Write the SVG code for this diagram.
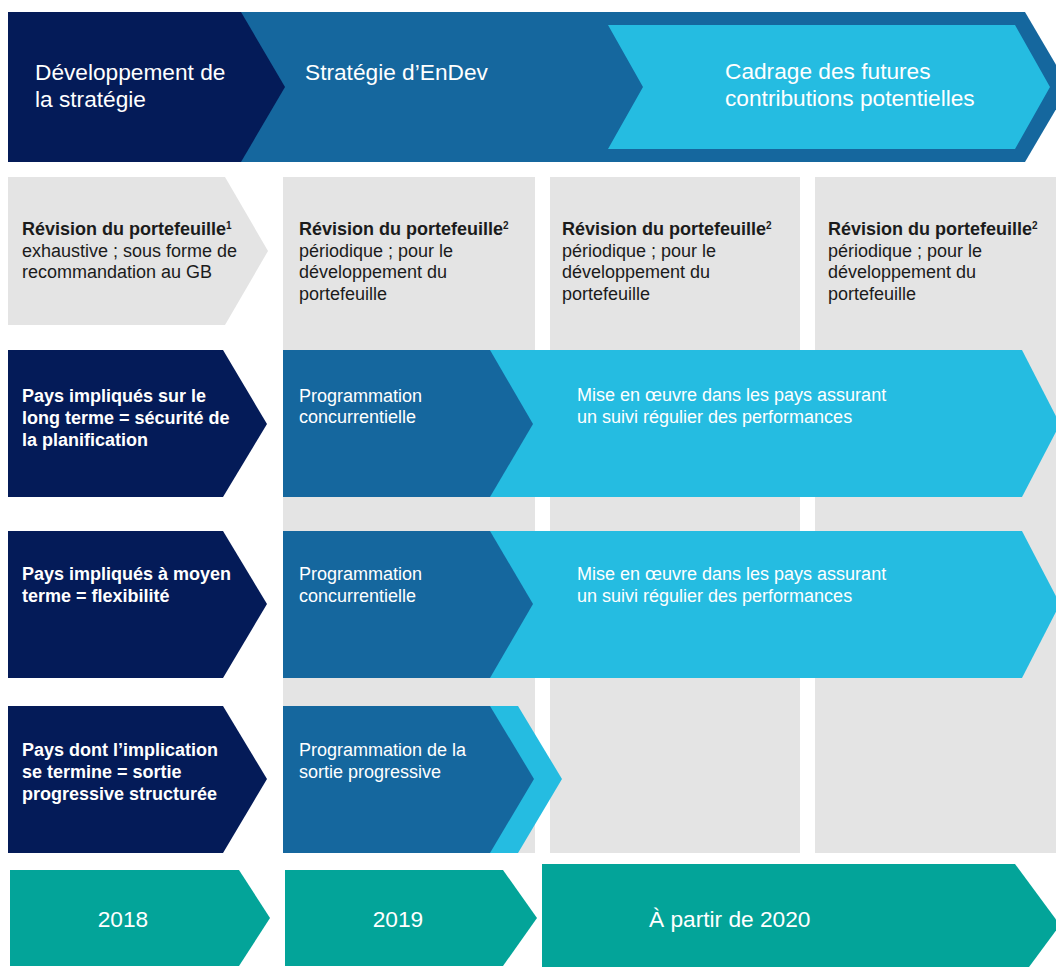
<svg xmlns="http://www.w3.org/2000/svg" width="1056" height="967" viewBox="0 0 1056 967">
<style>
text{font-family:"Liberation Sans",Arial,sans-serif;}
.navy{fill:#041b58;}
.mid{fill:#15679e;}
.cyan{fill:#25bce1;}
.gray{fill:#e4e4e4;}
.teal{fill:#03a499;}
.wt{fill:#ffffff;font-size:18px;}
.wb{fill:#ffffff;font-size:18px;font-weight:bold;}
.big{fill:#ffffff;font-size:22.7px;}
.dk{fill:#1b1b1b;font-size:18px;}
.dkb{fill:#1b1b1b;font-size:18px;font-weight:bold;}
.sup{font-size:10px;}
</style>
<rect width="1056" height="967" fill="#ffffff"/>

<g id="banner">
  <polygon class="mid" points="241,12 1025,12 1069,87 1025,162 241,162"/>
  <polygon class="cyan" points="608,25 1015,25 1050,87 1015,149 608,149 643,87"/>
  <polygon class="navy" points="8,12 241,12 285,87 241,162 8,162"/>
  <text class="big" x="35" y="80">Développement de</text>
  <text class="big" x="35" y="107">la stratégie</text>
  <text class="big" x="305" y="80">Stratégie d’EnDev</text>
  <text class="big" x="725" y="79">Cadrage des futures</text>
  <text class="big" x="725" y="106">contributions potentielles</text>
</g>

<g id="columns">
  <rect class="gray" x="283" y="177" width="252" height="676"/>
  <rect class="gray" x="550" y="177" width="250" height="676"/>
  <rect class="gray" x="815" y="177" width="241" height="676"/>
</g>

<g id="review-2018">
  <polygon class="gray" points="8,177 225,177 268,251 225,325 8,325"/>
  <text class="dkb" x="22" y="235">Révision du portefeuille<tspan class="sup" dy="-6">1</tspan></text>
  <text class="dk" x="22" y="257">exhaustive ; sous forme de</text>
  <text class="dk" x="22" y="278">recommandation au GB</text>
</g>

<g id="review-2019">
  <text class="dkb" x="299" y="235">Révision du portefeuille<tspan class="sup" dy="-6">2</tspan></text>
  <text class="dk" x="299" y="257">périodique ; pour le</text>
  <text class="dk" x="299" y="278">développement du</text>
  <text class="dk" x="299" y="300">portefeuille</text>
</g>

<g id="review-2020a">
  <text class="dkb" x="562" y="235">Révision du portefeuille<tspan class="sup" dy="-6">2</tspan></text>
  <text class="dk" x="562" y="257">périodique ; pour le</text>
  <text class="dk" x="562" y="278">développement du</text>
  <text class="dk" x="562" y="300">portefeuille</text>
</g>

<g id="review-2020b">
  <text class="dkb" x="828" y="235">Révision du portefeuille<tspan class="sup" dy="-6">2</tspan></text>
  <text class="dk" x="828" y="257">périodique ; pour le</text>
  <text class="dk" x="828" y="278">développement du</text>
  <text class="dk" x="828" y="300">portefeuille</text>
</g>

<g id="row-long">
  <polygon class="navy" points="8,350 223,350 267,424 223,497 8,497"/>
  <text class="wb" x="22" y="402">Pays impliqués sur le</text>
  <text class="wb" x="22" y="424">long terme = sécurité de</text>
  <text class="wb" x="22" y="446">la planification</text>
</g>
<g id="row-long-impl">
  <polygon class="cyan" points="480,350 1022,350 1060,424 1022,497 480,497"/>
  <text class="wt" x="577" y="401">Mise en œuvre dans les pays assurant</text>
  <text class="wt" x="577" y="423">un suivi régulier des performances</text>
</g>
<g id="row-long-prog">
  <polygon class="mid" points="283,350 490,350 533,424 490,497 283,497"/>
  <text class="wt" x="299" y="402">Programmation</text>
  <text class="wt" x="299" y="423">concurrentielle</text>
</g>

<g id="row-medium">
  <polygon class="navy" points="8,531 223,531 267,604 223,678 8,678"/>
  <text class="wb" x="22" y="580">Pays impliqués à moyen</text>
  <text class="wb" x="22" y="602">terme = flexibilité</text>
</g>
<g id="row-medium-impl">
  <polygon class="cyan" points="480,531 1022,531 1060,604 1022,678 480,678"/>
  <text class="wt" x="577" y="580">Mise en œuvre dans les pays assurant</text>
  <text class="wt" x="577" y="602">un suivi régulier des performances</text>
</g>
<g id="row-medium-prog">
  <polygon class="mid" points="283,531 490,531 533,604 490,678 283,678"/>
  <text class="wt" x="299" y="580">Programmation</text>
  <text class="wt" x="299" y="602">concurrentielle</text>
</g>

<g id="row-exit">
  <polygon class="navy" points="8,706 223,706 267,779 223,853 8,853"/>
  <text class="wb" x="22" y="756">Pays dont l’implication</text>
  <text class="wb" x="22" y="778">se termine = sortie</text>
  <text class="wb" x="22" y="800">progressive structurée</text>
</g>
<g id="row-exit-prog">
  <polygon class="cyan" points="480,706 518,706 562,779 518,853 480,853"/>
  <polygon class="mid" points="283,706 490,706 534,779 490,853 283,853"/>
  <text class="wt" x="299" y="756">Programmation de la</text>
  <text class="wt" x="299" y="778">sortie progressive</text>
</g>

<g id="year-2018">
  <polygon class="teal" points="10,870 239,870 270,918 239,966 10,966"/>
  <text class="big" x="123" y="927" text-anchor="middle">2018</text>
</g>
<g id="year-2019">
  <polygon class="teal" points="285,870 503,870 537,918 503,966 285,966"/>
  <text class="big" x="398" y="927" text-anchor="middle">2019</text>
</g>
<g id="year-2020">
  <polygon class="teal" points="542,864 1015,864 1060,925 1015,986 542,986"/>
  <text class="big" x="649" y="927">À partir de 2020</text>
</g>

<g id="connectors"/>
</svg>
